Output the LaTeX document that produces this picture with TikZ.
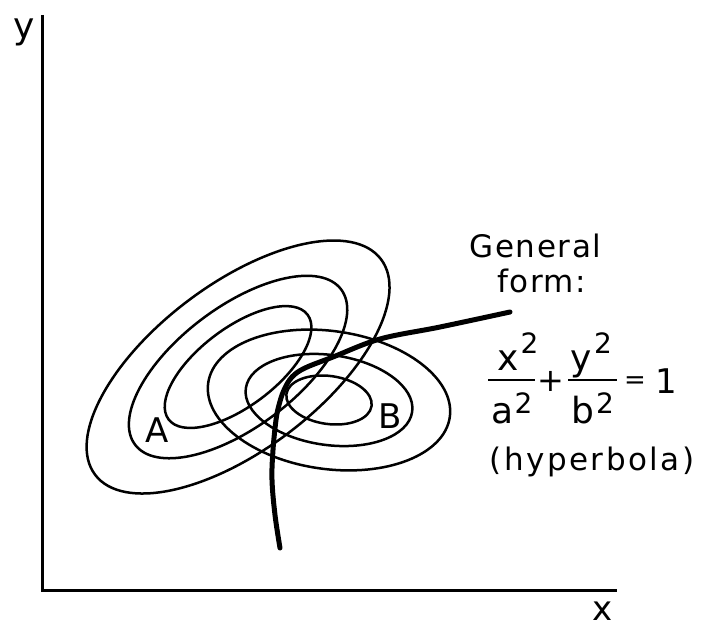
\documentclass[tikz,border=0pt]{standalone}
\usepackage{fontspec}
\setmainfont{DejaVu Sans}
\newfontfamily\lblfont[LetterSpace=5]{DejaVu Sans}
\newfontfamily\widefont[LetterSpace=8]{DejaVu Sans}
\begin{document}
\begin{tikzpicture}[x=1pt,y=-1pt,
  contour/.style={line width=2.5pt},
  hypline/.style={line width=5pt,line cap=round},
  axisline/.style={line width=3pt},
  txt/.style={inner sep=0pt,anchor=base,font=\fontsize{31}{36}\lblfont},
  axlbl/.style={inner sep=0pt,anchor=base,font=\fontsize{36}{40}\selectfont},
  eqlbl/.style={inner sep=0pt,anchor=base,font=\fontsize{36}{40}\selectfont},
  eqsup/.style={inner sep=0pt,anchor=base,font=\fontsize{28}{32}\selectfont},
  ptlbl/.style={inner sep=0pt,anchor=base,font=\fontsize{34}{38}\selectfont}]
\useasboundingbox (0,0) rectangle (711,631);
% axes
\coordinate (ytop) at (42,15);
\coordinate (orig) at (42,590);
\coordinate (xend) at (617,590);
\draw[axisline] (ytop) -- (orig) -- (xend);
\node[axlbl] (ylab) at (24,39) {y};
\node[inner sep=0pt,anchor=base,font=\fontsize{34}{38}\selectfont] (xlab) at (602.5,620) {x};
% A contours
\coordinate (ca) at (238,367);
\draw[contour, rotate around={37:(ca)}] (ca) ellipse [x radius=179pt, y radius=83pt];
\draw[contour, rotate around={37:(ca)}] (ca) ellipse [x radius=129pt, y radius=60pt];
\draw[contour, rotate around={37:(ca)}] (ca) ellipse [x radius=87pt, y radius=39pt];
% B contours
\coordinate (cb) at (329,400);
\draw[contour, rotate around={-8:(cb)}] (cb) ellipse [x radius=122pt, y radius=69pt];
\draw[contour, rotate around={-8:(cb)}] (cb) ellipse [x radius=84pt, y radius=45pt];
\draw[contour, rotate around={-8:(cb)}] (cb) ellipse [x radius=43pt, y radius=24pt];
\node[ptlbl] (A) at (157.5,442) {A};
\node[ptlbl] (B) at (390,428) {B};
% hyperbola
\draw[hypline] plot[smooth, tension=0.6] coordinates {(510,312) (440,327) (380,339) (333,357) (305,368) (292,377) (284,390) (279,405) (276,420) (273,450) (272,480) (275,515) (280,548)};
% text
\node[txt] (gen) at (535.5,257) {General};
\node[txt] (form) at (541.5,292) {form:};
\node[inner sep=0pt,anchor=base,font=\fontsize{31}{36}\widefont] (hyp) at (592,470) {(hyperbola)};
% equation
\node[eqlbl] (nx) at (508.5,370) {x};
\node[eqsup] (nx2) at (529.5,353) {2};
\node[eqlbl] (da) at (503,423) {a};
\node[eqsup] (da2) at (523.5,413) {2};
\coordinate (b1l) at (488,380);
\coordinate (b1r) at (535,380);
\draw[line width=2.2pt] (b1l) -- (b1r);
\node[inner sep=0pt,font=\fontsize{32}{36}\selectfont] (plus) at (551,381.5) {+};
\node[eqlbl] (ny) at (581,370) {y};
\node[eqsup] (ny2) at (603,353) {2};
\node[eqlbl] (db) at (582.5,423) {b};
\node[eqsup] (db2) at (605,413) {2};
\coordinate (b2l) at (568,380);
\coordinate (b2r) at (617,380);
\draw[line width=2.2pt] (b2l) -- (b2r);
\node[inner sep=0pt,font=\fontsize{26}{30}\selectfont] (eq) at (635,382.5) {=};
\node[inner sep=0pt,anchor=base,font=\fontsize{34}{38}\selectfont] (one) at (666,393) {1};
\end{tikzpicture}
\end{document}
